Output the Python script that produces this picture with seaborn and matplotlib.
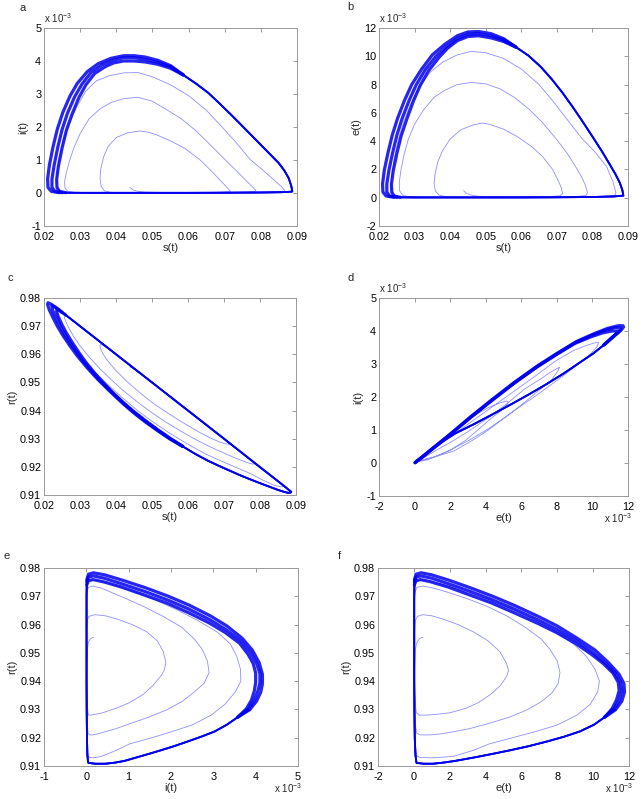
import matplotlib
matplotlib.use("Agg")
import matplotlib.pyplot as plt
import seaborn as sns

# ---------------- data ----------------
# units: s, r absolute; e, i in 1e-3
# start hook + bottom to first loop
start_s = [0.0438, 0.0445, 0.0460, 0.0480, 0.0550, 0.0620, 0.0680, 0.0710]
start_e = [0.50, 0.32, 0.18, 0.10, 0.05, 0.05, 0.08, 0.14]
start_i = [0.17, 0.10, 0.05, 0.03, 0.01, 0.01, 0.02, 0.04]
start_r = [0.9555, 0.9551, 0.9538, 0.9519, 0.9449, 0.9379, 0.9319, 0.9288]

# loop 1 (epidemic phase)
l1_s = [0.0716, 0.0712, 0.0702, 0.0688, 0.0660, 0.0630, 0.0590, 0.0550, 0.0510, 0.0490,
        0.0465, 0.0430, 0.0400, 0.0378, 0.0365, 0.0357, 0.0355, 0.0358, 0.0368, 0.0385]
l1_e = [0.30, 0.75, 1.30, 2.00, 2.90, 3.60, 4.30, 4.85, 5.20, 5.28,
        5.15, 4.80, 4.15, 3.30, 2.50, 1.60, 1.00, 0.50, 0.20, 0.08]
l1_i = [0.05, 0.10, 0.22, 0.38, 0.70, 1.02, 1.35, 1.58, 1.77, 1.84,
        1.88, 1.82, 1.68, 1.42, 1.10, 0.72, 0.45, 0.20, 0.06, 0.02]
l1_r = [0.9280, 0.9280, 0.9283, 0.9288, 0.9304, 0.9324, 0.9354, 0.9386, 0.9420, 0.9439,
        0.9465, 0.9504, 0.9542, 0.9575, 0.9599, 0.9620, 0.9631, 0.9635, 0.9629, 0.9614]
# bottom 1
b1_s = [0.0420, 0.0500, 0.0600, 0.0700, 0.0760, 0.0782]
b1_e = [0.05, 0.04, 0.04, 0.06, 0.10, 0.16]
b1_i = [0.01, 0.01, 0.01, 0.015, 0.03, 0.04]
b1_r = [0.9579, 0.9500, 0.9400, 0.9299, 0.9239, 0.9216]

# loop 2
l2_s = [0.0786, 0.0780, 0.0770, 0.0755, 0.0730, 0.0700, 0.0660, 0.0620, 0.0580, 0.0540,
        0.0500, 0.0460, 0.0420, 0.0385, 0.0355, 0.0325, 0.0300, 0.0282, 0.0270, 0.0262,
        0.0257, 0.0258, 0.0266, 0.0285]
l2_e = [0.35, 0.90, 1.45, 2.10, 3.10, 4.10, 5.30, 6.30, 7.10, 7.70,
        8.05, 8.15, 8.00, 7.60, 7.10, 6.20, 5.20, 4.10, 3.00, 2.00,
        1.10, 0.50, 0.18, 0.06]
l2_i = [0.08, 0.15, 0.26, 0.42, 0.70, 1.02, 1.46, 1.89, 2.25, 2.52,
        2.78, 2.90, 2.86, 2.74, 2.55, 2.25, 1.80, 1.35, 0.95, 0.62,
        0.35, 0.15, 0.05, 0.015]
l2_r = [0.9210, 0.9210, 0.9213, 0.9220, 0.9232, 0.9249, 0.9272, 0.9298, 0.9327, 0.9358,
        0.9392, 0.9430, 0.9471, 0.9512, 0.9549, 0.9591, 0.9630, 0.9664, 0.9691, 0.9712,
        0.9729, 0.9736, 0.9732, 0.9714]
# bottom 2
b2_s = [0.0320, 0.0400, 0.0500, 0.0600, 0.0700, 0.0800, 0.0850, 0.0863]
b2_e = [0.04, 0.03, 0.03, 0.03, 0.04, 0.07, 0.12, 0.18]
b2_i = [0.01, 0.008, 0.008, 0.008, 0.01, 0.02, 0.03, 0.045]
b2_r = [0.9680, 0.9600, 0.9500, 0.9400, 0.9300, 0.9199, 0.9148, 0.9135]

# loop 3
l3_s = [0.0866, 0.0858, 0.0840, 0.0805, 0.0770, 0.0730, 0.0690, 0.0650, 0.0600, 0.0550,
        0.0500, 0.0460, 0.0420, 0.0380, 0.0345, 0.0315, 0.0290, 0.0270, 0.0254, 0.0243,
        0.0236, 0.0234, 0.0240, 0.0255]
l3_e = [0.35, 1.10, 2.20, 3.30, 4.20, 5.50, 6.80, 8.00, 9.10, 9.85,
        10.25, 10.35, 10.10, 9.60, 8.90, 7.90, 6.70, 5.40, 4.10, 2.80,
        1.60, 0.70, 0.25, 0.08]
l3_i = [0.08, 0.18, 0.36, 0.70, 1.02, 1.55, 2.03, 2.50, 2.95, 3.28,
        3.52, 3.65, 3.64, 3.55, 3.40, 3.08, 2.60, 2.10, 1.60, 1.10,
        0.62, 0.25, 0.07, 0.02]
l3_r = [0.9130, 0.9129, 0.9134, 0.9155, 0.9178, 0.9200, 0.9222, 0.9245, 0.9280, 0.9319,
        0.9362, 0.9400, 0.9443, 0.9489, 0.9532, 0.9575, 0.9617, 0.9655, 0.9689, 0.9718,
        0.9742, 0.9757, 0.9757, 0.9744]
# bottom 3
b3_s = [0.0320, 0.0420, 0.0520, 0.0620, 0.0720, 0.0800, 0.0860, 0.0884]
b3_e = [0.03, 0.02, 0.02, 0.02, 0.03, 0.05, 0.09, 0.14]
b3_i = [0.008, 0.005, 0.005, 0.005, 0.008, 0.015, 0.025, 0.04]
b3_r = [0.9680, 0.9580, 0.9480, 0.9380, 0.9280, 0.9199, 0.9139, 0.9114]

# limit cycle: rising part (shared)
rise_s = [0.0887, 0.0884, 0.0877, 0.0865, 0.0850, 0.0825, 0.0798, 0.0772, 0.0745, 0.0715,
          0.0685, 0.0655, 0.0620, 0.0585]
rise_e = [0.15, 0.55, 1.05, 1.65, 2.30, 3.35, 4.40, 5.40, 6.40, 7.45, 8.40, 9.25, 10.05, 10.65]
rise_i = [0.05, 0.22, 0.45, 0.68, 0.90, 1.18, 1.48, 1.77, 2.07, 2.40, 2.72, 3.03, 3.32, 3.58]
rise_r = [0.9111, 0.9108, 0.9108, 0.9112, 0.9118, 0.9130, 0.9143, 0.9156, 0.9170, 0.9187,
          0.9204, 0.9222, 0.9246, 0.9273]

# limit cycle band: outer / centre / inner edges of the top-left part
outer_s = [0.0550, 0.0515, 0.0480, 0.0450, 0.0420, 0.0385, 0.0350, 0.0320, 0.0292, 0.0272,
           0.0252, 0.0237, 0.0225, 0.0215, 0.0210, 0.0211, 0.0220, 0.0242]
outer_e = [11.25, 11.60, 11.75, 11.72, 11.45, 10.85, 10.10, 9.10, 8.00, 6.90,
           5.60, 4.40, 3.15, 1.95, 0.98, 0.40, 0.12, 0.03]
outer_i = [3.86, 4.02, 4.12, 4.16, 4.16, 4.08, 3.92, 3.68, 3.32, 2.94,
           2.44, 1.94, 1.40, 0.85, 0.43, 0.17, 0.05, 0.01]
outer_r = [0.9299, 0.9329, 0.9361, 0.9391, 0.9424, 0.9466, 0.9510, 0.9552, 0.9595, 0.9630,
           0.9668, 0.9700, 0.9730, 0.9757, 0.9776, 0.9783, 0.9778, 0.9758]

center_s = [0.0550, 0.0515, 0.0480, 0.0450, 0.0420, 0.0390, 0.0360, 0.0330, 0.0305, 0.0285,
            0.0265, 0.0250, 0.0238, 0.0228, 0.0222, 0.0222, 0.0230, 0.0250]
center_e = [11.15, 11.45, 11.60, 11.55, 11.25, 10.70, 10.00, 9.05, 8.00, 6.90,
            5.60, 4.40, 3.15, 1.95, 0.98, 0.40, 0.12, 0.03]
center_i = [3.82, 3.96, 4.05, 4.10, 4.10, 4.02, 3.88, 3.65, 3.30, 2.92,
            2.42, 1.92, 1.38, 0.84, 0.42, 0.17, 0.05, 0.01]
center_r = [0.9300, 0.9331, 0.9364, 0.9394, 0.9427, 0.9463, 0.9501, 0.9543, 0.9582, 0.9617,
            0.9655, 0.9687, 0.9717, 0.9744, 0.9764, 0.9772, 0.9768, 0.9750]

inner_s = [0.0550, 0.0515, 0.0480, 0.0450, 0.0420, 0.0392, 0.0368, 0.0340, 0.0316, 0.0297,
           0.0278, 0.0262, 0.0250, 0.0240, 0.0235, 0.0236, 0.0243, 0.0260]
inner_e = [11.05, 11.30, 11.45, 11.40, 11.10, 10.55, 9.90, 9.00, 7.95, 6.85,
           5.55, 4.35, 3.10, 1.90, 0.95, 0.38, 0.11, 0.03]
inner_i = [3.78, 3.90, 3.97, 4.00, 4.00, 3.94, 3.82, 3.62, 3.28, 2.90,
           2.40, 1.90, 1.36, 0.82, 0.41, 0.16, 0.05, 0.01]
inner_r = [0.9302, 0.9333, 0.9366, 0.9396, 0.9429, 0.9463, 0.9495, 0.9534, 0.9572, 0.9606,
           0.9643, 0.9676, 0.9705, 0.9733, 0.9751, 0.9759, 0.9755, 0.9740]

# limit cycle bottom (shared)
lbot_s = [0.0300, 0.0400, 0.0500, 0.0600, 0.0700, 0.0800, 0.0860, 0.0884]
lbot_e = [0.02, 0.02, 0.02, 0.02, 0.03, 0.05, 0.09, 0.14]
lbot_i = [0.005, 0.005, 0.005, 0.005, 0.008, 0.015, 0.025, 0.04]
lbot_r = [0.9700, 0.9600, 0.9500, 0.9400, 0.9300, 0.9199, 0.9139, 0.9114]

# ticks
s_ticks = [0.02, 0.03, 0.04, 0.05, 0.06, 0.07, 0.08, 0.09]
s_labels = ["0.02", "0.03", "0.04", "0.05", "0.06", "0.07", "0.08", "0.09"]
i_ticks = [-1, 0, 1, 2, 3, 4, 5]
e_ticks = [-2, 0, 2, 4, 6, 8, 10, 12]
r_ticks = [0.91, 0.92, 0.93, 0.94, 0.95, 0.96, 0.97, 0.98]
r_labels = ["0.91", "0.92", "0.93", "0.94", "0.95", "0.96", "0.97", "0.98"]

# ---------------- assemble paths ----------------
trans = {
    "s": start_s + l1_s + b1_s + l2_s + b2_s + l3_s + b3_s,
    "e": start_e + l1_e + b1_e + l2_e + b2_e + l3_e + b3_e,
    "i": start_i + l1_i + b1_i + l2_i + b2_i + l3_i + b3_i,
    "r": start_r + l1_r + b1_r + l2_r + b2_r + l3_r + b3_r,
}
rise = {"s": rise_s, "e": rise_e, "i": rise_i, "r": rise_r}
lbot = {"s": lbot_s, "e": lbot_e, "i": lbot_i, "r": lbot_r}
bands = [
    {"s": outer_s, "e": outer_e, "i": outer_i, "r": outer_r},
    {"s": center_s, "e": center_e, "i": center_i, "r": center_r},
    {"s": inner_s, "e": inner_e, "i": inner_i, "r": inner_r},
]

# ---------------- figure ----------------
sns.set_style("white")
plt.rcParams["font.family"] = ["Liberation Sans", "DejaVu Sans"]

fig = plt.figure(figsize=(6.41, 7.99), dpi=100)
W, H = 641.0, 799.0

def axbox(x0, y0, x1, y1):
    return [x0 / W, (H - y1) / H, (x1 - x0) / W, (y1 - y0) / H]

panels = [
    ("a", axbox(44, 28, 297, 226), "s", "i", (0.02, 0.09), (-1, 5), "s(t)", "i(t)", (20, 8)),
    ("b", axbox(379, 28, 628, 226), "s", "e", (0.02, 0.09), (-2, 12), "s(t)", "e(t)", (347, 7)),
    ("c", axbox(44, 298, 296, 495), "s", "r", (0.02, 0.09), (0.91, 0.98), "s(t)", "r(t)", (8, 278)),
    ("d", axbox(379, 298, 628, 496), "e", "i", (-2, 12), (-1, 5), "e(t)", "i(t)", (347, 278)),
    ("e", axbox(44, 568, 298, 766), "i", "r", (-1, 5), (0.91, 0.98), "i(t)", "r(t)", (4, 556)),
    ("f", axbox(378, 568, 629, 766), "e", "r", (-2, 12), (0.91, 0.98), "e(t)", "r(t)", (338, 556)),
]

tick_map = {
    "s": (s_ticks, s_labels),
    "i": (i_ticks, [str(t) for t in i_ticks]),
    "e": (e_ticks, [str(t) for t in e_ticks]),
    "r": (r_ticks, r_labels),
}

sci = r"x 10$^{\mathregular{-3}}$"

def path(ax, x, y, lw, color, alpha):
    sns.lineplot(x=x, y=y, sort=False, estimator=None, ax=ax,
                 color=color, lw=lw, alpha=alpha, legend=False)

for letter, box, xv, yv, xlim, ylim, xl, yl, lpos in panels:
    ax = fig.add_axes(box)
    path(ax, trans[xv], trans[yv], 0.6, "#2020ff", 0.5)
    for bd in bands:
        # bottom part + shared rising part (thin, they overlap)
        path(ax, bd[xv][-1:] + lbot[xv] + rise[xv] + bd[xv][:1],
             bd[yv][-1:] + lbot[yv] + rise[yv] + bd[yv][:1], 1.3, "#0000ee", 0.85)
        # spread top-left part of the limit cycle (thick band)
        path(ax, rise[xv][-1:] + bd[xv], rise[yv][-1:] + bd[yv], 2.3, "#0000ee", 0.85)
    ax.set_xlim(*xlim)
    ax.set_ylim(*ylim)
    xt, xlab = tick_map[xv]
    yt, ylab = tick_map[yv]
    ax.set_xticks(xt)
    ax.set_xticklabels(xlab)
    ax.set_yticks(yt)
    ax.set_yticklabels(ylab)
    ax.tick_params(direction="in", length=3, width=0.6, colors="#888888",
                   labelcolor="black", labelsize=7.8, top=True, right=True)
    ax.tick_params(axis="x", pad=4)
    ax.tick_params(axis="y", pad=2)
    for sp in ax.spines.values():
        sp.set_color("#999999")
        sp.set_linewidth(0.7)
    ax.set_xlabel(xl, fontsize=8, labelpad=1)
    ax.set_ylabel(yl, fontsize=8, labelpad=2)
    # x 10^-3 annotations
    if yv in ("i", "e"):
        ax.text(0.0, 1.015, sci, transform=ax.transAxes, fontsize=7, ha="left", va="bottom")
    if xv in ("i", "e"):
        ax.text(1.015, -0.11, sci, transform=ax.transAxes, fontsize=7, ha="right", va="center")
    fig.text(lpos[0] / W, 1 - lpos[1] / H, letter, fontsize=8, ha="left", va="center")

fig.savefig("out.png", dpi=100)
